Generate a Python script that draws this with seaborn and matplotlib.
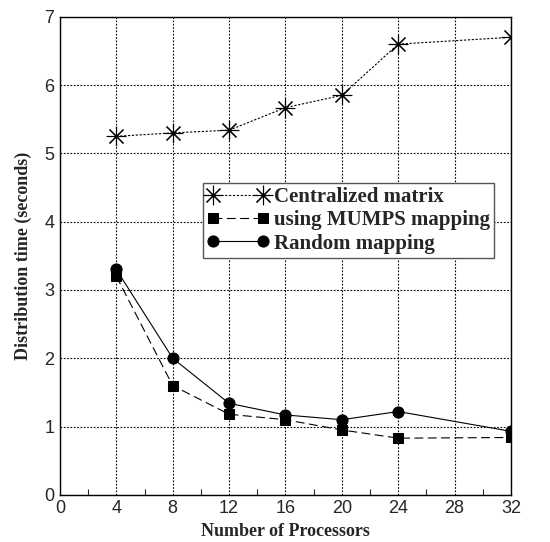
import matplotlib
matplotlib.use("Agg")
import matplotlib.pyplot as plt
import seaborn as sns
import pandas as pd
from matplotlib.ticker import MultipleLocator

processors = [4, 8, 12, 16, 20, 24, 32]
centralized = [5.25, 5.30, 5.34, 5.67, 5.85, 6.60, 6.70]
mumps = [3.20, 1.60, 1.18, 1.10, 0.95, 0.83, 0.84]
random_map = [3.30, 2.00, 1.34, 1.17, 1.10, 1.22, 0.93]
labels = ["Centralized matrix", "using MUMPS mapping", "Random mapping"]
x_ticks = [0, 4, 8, 12, 16, 20, 24, 28, 32]
y_ticks = [0, 1, 2, 3, 4, 5, 6, 7]

sns.set_style("white")
plt.rcParams['font.family'] = ['Liberation Sans', 'DejaVu Sans']

df = pd.concat([
    pd.DataFrame({"x": processors, "y": centralized, "series": labels[0]}),
    pd.DataFrame({"x": processors, "y": mumps, "series": labels[1]}),
    pd.DataFrame({"x": processors, "y": random_map, "series": labels[2]}),
])

fig = plt.figure(figsize=(5.5, 5.42), dpi=100)
ax = fig.add_axes([0.109, 0.087, 0.82, 0.882])

styles = {
    labels[0]: dict(linestyle=(0, (2, 1.5)), marker=(8, 2, 0), markersize=14, linewidth=0.8, mew=0.8),
    labels[1]: dict(linestyle=(0, (8, 4)), marker="s", markersize=6.5, linewidth=0.8),
    labels[2]: dict(linestyle="-", marker="o", markersize=8, linewidth=0.8),
}
for lab in labels:
    sub = df[df["series"] == lab]
    sns.lineplot(data=sub, x="x", y="y", ax=ax, color="black", label=lab,
                 markeredgecolor="black", markerfacecolor="black", **styles[lab])

ax.set_xlim(0, 32)
ax.set_ylim(0, 7)
ax.set_xticks(x_ticks)
ax.set_yticks(y_ticks)
ax.xaxis.set_minor_locator(MultipleLocator(2))
ax.tick_params(axis="both", which="major", labelsize=13, direction="in", length=0, pad=4)
ax.tick_params(axis="x", which="minor", direction="in", length=4, width=0.8, bottom=True)
ax.grid(True, which="major", color="black", linestyle=(0, (1.5, 1.5)), linewidth=0.8)
for s in ax.spines.values():
    s.set_color("black")
    s.set_linewidth(1.0)

ax.set_xlabel("Number of Processors", fontfamily="Liberation Serif", fontweight="bold", fontsize=13, labelpad=4)
ax.set_ylabel("Distribution time (seconds)", fontfamily="Liberation Serif", fontweight="bold", fontsize=13, labelpad=9)

leg = ax.legend(loc="upper left", bbox_to_anchor=(0.317, 0.652), frameon=True, fancybox=False,
                edgecolor="#555555", framealpha=1, borderpad=0.2, handlelength=3.0, handletextpad=0.2,
                labelspacing=0.15, borderaxespad=0, numpoints=2,
                prop={"family": "Liberation Serif", "weight": "bold", "size": 15})
leg.get_frame().set_linewidth(1.0)

fig.savefig("out.png", dpi=100)
